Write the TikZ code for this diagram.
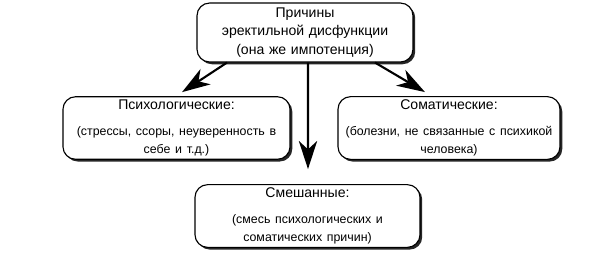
\documentclass[tikz,border=0pt]{standalone}
\usepackage{fontspec}
\setmainfont{Liberation Sans}
\usetikzlibrary{arrows.meta, calc, shadows}

\begin{document}
\begin{tikzpicture}[
    x=0.025cm, y=-0.025cm,
    cause/.style={rectangle, draw, line width=0.8pt, fill=white, rounded corners=9pt, align=center, inner xsep=2pt, inner ysep=2pt, minimum height=1.55cm, font=\fontsize{10}{13}\selectfont, drop shadow={shadow xshift=1.6pt, shadow yshift=-1.6pt, fill=black, opacity=0.85}},
    arrow/.style={line width=1.5pt, -{Stealth[length=20pt, width=13pt, inset=6pt]}}
]
    \useasboundingbox (0,0) rectangle (600,252);

    \node [cause, text width=149.6pt, minimum height=1.475cm] (reasons) at (305,32.5) {Причины\\эректильной дисфункции\\(она же импотенция)};
    \node [cause, text width=157.5pt] (psych) at (176.5,128) {Психологические:\\[7.5pt]\fontsize{8.8}{11.3}\selectfont (стрессы, ссоры, неуверенность в\\себе и т.д.)};
    \node [cause, text width=153.9pt] (soma) at (449,128) {Соматические:\\[7.5pt]\fontsize{8.8}{11.3}\selectfont (болезни, не связанные с психикой\\человека)};
    \node [cause, text width=156pt] (mixed) at (307.5,216) {Смешанные:\\[7.5pt]\fontsize{8.8}{11.3}\selectfont (смесь психологических и\\соматических причин)};

    \draw [arrow] ($(reasons.south)+(-78,0)$) -- ($(psych.north)+(5.5,-4)$);
    \draw [arrow] ($(reasons.south)+(70,0)$) -- ($(soma.north)+(-24,-4)$);
    \draw [arrow] ($(reasons.south)+(3,0)$) -- ($(mixed.north)+(0.5,-15)$);
\end{tikzpicture}
\end{document}
